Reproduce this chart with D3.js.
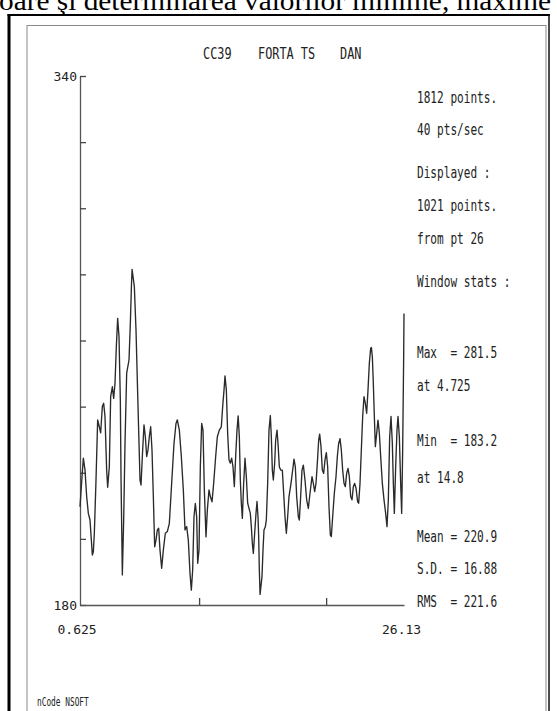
<!DOCTYPE html>
<html>
<head>
<meta charset="utf-8">
<script src="https://cdn.jsdelivr.net/npm/d3@7"></script>
<style>
  html, body { margin: 0; padding: 0; background: #fff; }
  svg { display: block; }
  text { white-space: pre; }
</style>
</head>
<body>
<svg id="chart" width="557" height="711"></svg>
<script>
// Force trace, time in seconds
const timeSec = [
  0.625, 0.783, 0.888, 1.019, 1.150, 1.281, 1.412, 1.517, 1.596, 1.675,
  1.754, 1.885, 2.016, 2.147, 2.252, 2.383, 2.488, 2.593, 2.724, 2.803,
  2.934, 3.039, 3.171, 3.275, 3.380, 3.485, 3.590, 3.695, 3.800, 3.853,
  3.958, 4.063, 4.168, 4.299, 4.483, 4.588, 4.680, 4.725, 4.903, 5.034,
  5.165, 5.270, 5.349, 5.428, 5.532, 5.663, 5.768, 5.873, 5.978, 6.083,
  6.188, 6.293, 6.398, 6.503, 6.608, 6.713, 6.818, 6.923, 7.054, 7.185,
  7.343, 7.500, 7.657, 7.841, 8.025, 8.182, 8.287, 8.445, 8.602, 8.759,
  8.891, 9.022, 9.153, 9.284, 9.389, 9.494, 9.599, 9.704, 9.809, 9.888,
  9.993, 10.098, 10.203, 10.308, 10.413, 10.544, 10.649, 10.780, 10.885, 11.016,
  11.147, 11.305, 11.436, 11.593, 11.751, 11.856, 11.961, 12.040, 12.145, 12.249,
  12.354, 12.459, 12.564, 12.669, 12.774, 12.879, 12.984, 13.075, 13.168, 13.246,
  13.325, 13.404, 13.509, 13.614, 13.719, 13.824, 13.929, 14.034, 14.112, 14.191,
  14.270, 14.375, 14.480, 14.558, 14.637, 14.690, 14.742, 14.800, 14.952, 15.031,
  15.109, 15.214, 15.293, 15.398, 15.503, 15.608, 15.687, 15.765, 15.844, 15.949,
  16.028, 16.133, 16.212, 16.317, 16.421, 16.553, 16.658, 16.763, 16.868, 16.972,
  17.077, 17.235, 17.366, 17.471, 17.576, 17.681, 17.812, 17.891, 17.996, 18.101,
  18.206, 18.337, 18.468, 18.600, 18.731, 18.888, 18.993, 19.098, 19.203, 19.308,
  19.413, 19.492, 19.597, 19.701, 19.806, 19.911, 20.016, 20.121, 20.226, 20.331,
  20.410, 20.515, 20.646, 20.777, 20.882, 20.987, 21.092, 21.197, 21.302, 21.407,
  21.512, 21.617, 21.722, 21.827, 21.932, 22.037, 22.142, 22.247, 22.352, 22.483,
  22.562, 22.667, 22.772, 22.877, 22.981, 23.086, 23.191, 23.296, 23.401, 23.506,
  23.559, 23.638, 23.716, 23.795, 23.874, 23.979, 24.084, 24.189, 24.294, 24.425,
  24.556, 24.687, 24.792, 24.897, 25.002, 25.107, 25.212, 25.291, 25.369, 25.474,
  25.579, 25.658, 25.763, 25.868, 25.947, 26.025, 26.104, 26.130
];
const forceVals = [
  209.7, 218.8, 224.4, 220.8, 212.8, 207.7, 205.7, 199.7, 195.1, 196.1,
  201.7, 217.8, 236.0, 233.9, 232.1, 240.0, 241.0, 237.0, 220.8, 215.6,
  221.8, 243.0, 246.0, 242.5, 247.0, 258.1, 266.7, 261.2, 242.0, 218.8,
  189.1, 205.7, 228.9, 250.1, 254.1, 265.2, 277.3, 281.5, 276.3, 263.2,
  244.0, 228.9, 217.8, 216.3, 224.9, 234.5, 230.9, 224.9, 226.9, 230.9,
  233.9, 226.9, 212.8, 197.6, 199.6, 202.7, 203.2, 196.6, 191.1, 196.6,
  201.7, 202.2, 204.7, 216.8, 228.9, 234.9, 236.0, 232.9, 224.9, 214.8,
  202.7, 203.7, 199.6, 189.6, 184.5, 190.6, 206.7, 210.7, 206.7, 192.6,
  196.6, 221.8, 234.9, 232.9, 214.8, 200.6, 208.7, 214.8, 212.8, 211.2,
  216.8, 224.9, 230.9, 232.9, 233.9, 240.0, 245.0, 249.3, 245.0, 231.9,
  223.9, 222.9, 224.4, 221.8, 215.8, 224.9, 232.9, 237.2, 230.9, 217.8,
  210.8, 206.2, 216.8, 224.4, 218.8, 210.8, 209.2, 207.7, 203.7, 198.7,
  195.6, 201.7, 207.7, 211.3, 206.7, 200.7, 190.6, 183.2, 188.6, 196.6,
  202.7, 203.7, 205.7, 216.8, 232.9, 237.3, 230.9, 220.8, 217.8, 222.9,
  229.9, 232.9, 228.9, 221.8, 220.8, 220.8, 213.8, 206.7, 201.7, 206.7,
  212.8, 216.8, 220.8, 224.1, 221.8, 212.8, 206.7, 205.7, 212.8, 220.8,
  222.3, 217.8, 211.8, 209.2, 213.8, 218.8, 216.8, 214.3, 216.8, 222.9,
  229.9, 231.7, 227.9, 220.8, 219.8, 223.9, 226.1, 221.8, 209.7, 201.2,
  200.7, 206.7, 213.8, 218.8, 224.9, 228.9, 230.3, 226.9, 220.8, 216.8,
  215.8, 219.8, 221.3, 218.8, 212.8, 211.8, 215.8, 216.8, 215.3, 211.2,
  210.8, 216.8, 226.9, 237.0, 243.0, 241.0, 238.0, 245.0, 253.1, 257.6,
  257.9, 255.1, 247.0, 237.0, 227.9, 231.9, 235.9, 231.9, 224.9, 216.8,
  211.8, 207.7, 203.7, 211.8, 230.9, 237.0, 228.9, 216.8, 207.7, 221.8,
  232.9, 237.0, 230.9, 216.8, 207.7, 226.9, 255.1, 268.2
];

// Axis settings
const yDomain = [180, 340];
const yTickValues = [180, 200, 220, 240, 260, 280, 300, 320, 340];
const yLabelled = [180, 340];
const xDomain = [0.625, 26.13];
const xTickValues = [10, 20];
const xEndLabels = ["0.625", "26.13"];

// Header and side panel texts
const pageHeading = "oare şi determinarea valorilor minime, maxime";
const titleWords = ["CC39", "FORTA TS", "DAN"];
const statLines = [
  "1812 points.", "40 pts/sec",
  "Displayed :", "1021 points.", "from pt 26",
  "Window stats :",
  "Max  = 281.5", "at 4.725",
  "Min  = 183.2", "at 14.8",
  "Mean = 220.9", "S.D. = 16.88", "RMS  = 221.6"
];
const footerText = "nCode NSOFT";

// ---------------------------------------------------------------
const svg = d3.select("#chart");
const MONO = "'DejaVu Sans Mono', 'Liberation Mono', monospace";

// page heading, partly above the sheet edge
svg.append("text")
  .attr("x", -1).attr("y", 10)
  .attr("textLength", 552).attr("lengthAdjust", "spacingAndGlyphs")
  .style("font-family", "'Liberation Serif', 'Times New Roman', serif")
  .style("font-size", "27px")
  .attr("fill", "#000")
  .text(pageHeading);

// frames
svg.append("rect")
  .attr("x", 27).attr("y", 25.5).attr("width", 519).attr("height", 720)
  .attr("fill", "none").attr("stroke", "#8a8a8a").attr("stroke-width", 1);
svg.append("line").attr("x1", 9).attr("x2", 9).attr("y1", 14).attr("y2", 711)
  .attr("stroke", "#000").attr("stroke-width", 3);
svg.append("line").attr("x1", 7.5).attr("x2", 550).attr("y1", 15).attr("y2", 15)
  .attr("stroke", "#000").attr("stroke-width", 2);
svg.append("line").attr("x1", 549).attr("x2", 549).attr("y1", 14).attr("y2", 711)
  .attr("stroke", "#111").attr("stroke-width", 1.5);

// plot area
const plot = { left: 80, right: 404, top: 76, bottom: 605 };
const x = d3.scaleLinear().domain(xDomain).range([plot.left, plot.right]);
const y = d3.scaleLinear().domain(yDomain).range([plot.bottom, plot.top]);

const yAxis = d3.axisLeft(y)
  .tickValues(yTickValues)
  .tickSizeInner(-6).tickSizeOuter(0).tickPadding(3)
  .tickFormat(d => yLabelled.includes(d) ? d3.format("d")(d) : "");
const gy = svg.append("g").attr("transform", `translate(${plot.left},0)`).call(yAxis);

const xAxis = d3.axisBottom(x)
  .tickValues(xTickValues)
  .tickSizeInner(-7).tickSizeOuter(0)
  .tickFormat("");
const gx = svg.append("g").attr("transform", `translate(0,${plot.bottom})`).call(xAxis);

[gy, gx].forEach(g => {
  g.select(".domain").attr("stroke", "#555").attr("stroke-width", 1.3);
  g.selectAll(".tick line").attr("stroke", "#444").attr("stroke-width", 1.3);
  g.selectAll("text").style("font-family", MONO).style("font-size", "13px").attr("fill", "#222");
});
gy.selectAll(".tick text").attr("dy", "0.36em");

// x extent labels
svg.append("text").attr("x", x(xDomain[0]) - 22.5).attr("y", 634)
  .style("font-family", MONO).style("font-size", "13px").attr("fill", "#222")
  .text(xEndLabels[0]);
svg.append("text").attr("x", x(xDomain[1]) - 22).attr("y", 634)
  .style("font-family", MONO).style("font-size", "13px").attr("fill", "#222")
  .text(xEndLabels[1]);

// trace
const series = timeSec.map((t, i) => [t, forceVals[i]]);
svg.append("path")
  .datum(series)
  .attr("fill", "none")
  .attr("stroke", "#2a2a2a")
  .attr("stroke-width", 1.35)
  .attr("stroke-linejoin", "round")
  .attr("d", d3.line().x(d => x(d[0])).y(d => y(d[1])));

// title, in a tall condensed plotter-like face
const titleX = [203, 258, 340];
titleWords.forEach((w, i) => {
  svg.append("text")
    .attr("transform", `translate(${titleX[i]},59) scale(0.72,1)`)
    .style("font-family", MONO).style("font-size", "16.5px").attr("fill", "#222")
    .text(w);
});

// side panel
const statY = [103, 135, 178, 211, 244, 287, 358, 391, 446, 483, 542, 574, 607];
statLines.forEach((s, i) => {
  svg.append("text")
    .attr("transform", `translate(417,${statY[i]}) scale(0.74,1)`)
    .style("font-family", MONO).style("font-size", "15px").attr("fill", "#222")
    .text(s);
});

// footer
svg.append("text")
  .attr("transform", "translate(37,706) scale(0.68,1)")
  .style("font-family", MONO).style("font-size", "11.5px").attr("fill", "#222")
  .text(footerText);
</script>
</body>
</html>
